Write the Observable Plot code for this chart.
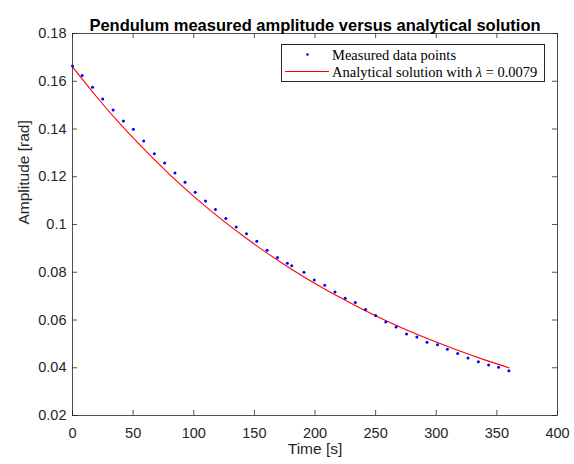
<!DOCTYPE html>
<html>
<head>
<meta charset="utf-8">
<script src="https://cdn.jsdelivr.net/npm/d3@7"></script>
<script src="https://cdn.jsdelivr.net/npm/@observablehq/plot@0.6"></script>
<style>
  html, body { margin: 0; padding: 0; background: #fff; }
  #wrap { position: relative; width: 574px; height: 464px; overflow: hidden; }
  #legend {
    position: absolute; left: 281px; top: 44px; width: 262px; height: 36px;
    border: 1px solid #262626; background: #fff; box-sizing: content-box;
    font-family: "Liberation Serif", "Times New Roman", serif; font-size: 14.5px; color: #000;
  }
  #legend .row { position: absolute; left: 50px; white-space: nowrap; line-height: 16px; }
  #legend svg { position: absolute; left: 0; top: 0; }
</style>
</head>
<body>
<div id="wrap"></div>
<script>
const timeMeasured = [0, 8.0, 16.5, 24.9, 33.5, 42.0, 50.2, 58.7, 67.5, 76.0, 84.5, 92.8, 101.2,
  109.7, 117.9, 126.5, 135.0, 143.5, 152.0, 160.5, 169.0, 177.2, 180.8, 190.9, 199.4, 208.0,
  216.5, 224.9, 233.2, 241.7, 250.0, 258.4, 266.9, 275.5, 284.0, 292.4, 301.0, 309.2, 317.7,
  326.2, 334.7, 343.2, 351.4, 359.9];
const ampMeasured = [0.1664, 0.1624, 0.1575, 0.1526, 0.1480, 0.1434, 0.1399, 0.1350, 0.1296,
  0.1258, 0.1216, 0.1177, 0.1135, 0.1098, 0.1063, 0.1025, 0.0990, 0.0961, 0.0930, 0.0892,
  0.0862, 0.0838, 0.0827, 0.0800, 0.0768, 0.0746, 0.0717, 0.0691, 0.0673, 0.0644, 0.0619,
  0.0592, 0.0571, 0.0541, 0.0529, 0.0507, 0.0496, 0.0478, 0.0460, 0.0441, 0.0425, 0.0411,
  0.0402, 0.0387];

// Analytical solution curve
const timeCurve = [0, 20, 40, 60, 80, 100, 120, 140, 160, 180, 200, 220, 240, 260, 280, 300, 320, 340, 360];
const ampCurve = [0.1660, 0.1534, 0.1417, 0.1310, 0.1210, 0.1118, 0.1033, 0.0955, 0.0882, 0.0815,
  0.0753, 0.0696, 0.0643, 0.0594, 0.0549, 0.0508, 0.0469, 0.0433, 0.0400];

// Ticks and labels
const xTicks = [0, 50, 100, 150, 200, 250, 300, 350, 400];
const yTicks = [0.02, 0.04, 0.06, 0.08, 0.1, 0.12, 0.14, 0.16, 0.18];
const yTickLabels = ["0.02", "0.04", "0.06", "0.08", "0.1", "0.12", "0.14", "0.16", "0.18"];
const titleText = "Pendulum measured amplitude versus analytical solution";
const xLabel = "Time [s]";
const yLabel = "Amplitude [rad]";
const legendLabels = ["Measured data points", "Analytical solution with"];
const lambdaValue = "0.0079";

const measured = timeMeasured.map((t, i) => ({t, a: ampMeasured[i]}));
const curve = timeCurve.map((t, i) => ({t, a: ampCurve[i]}));

const W = 574, H = 464;
const mL = 72, mR = 17, mT = 33, mB = 49;
const innerW = W - mL - mR, innerH = H - mT - mB;
const ink = "#262626";

const chart = Plot.plot({
  width: W, height: H,
  marginLeft: mL, marginRight: mR, marginTop: mT, marginBottom: mB,
  x: {domain: [0, 400]},
  y: {domain: [0.02, 0.18]},
  style: {fontFamily: "'Liberation Sans', Arial, Helvetica, sans-serif", fontSize: "14.5px", color: ink, background: "#fff", overflow: "visible"},
  marks: [
    Plot.line(curve, {x: "t", y: "a", stroke: "#ff0000", strokeWidth: 1.1, curve: "natural"}),
    Plot.dot(measured, {x: "t", y: "a", r: 1.5, fill: "#0000ff", stroke: "none"}),
    // inward tick marks on all four sides
    Plot.tickX(xTicks, {x: d => d, insetTop: innerH - 5, stroke: ink, strokeWidth: 0.8}),
    Plot.tickX(xTicks, {x: d => d, insetBottom: innerH - 5, stroke: ink, strokeWidth: 0.8}),
    Plot.tickY(yTicks, {y: d => d, insetRight: innerW - 5, stroke: ink, strokeWidth: 0.8}),
    Plot.tickY(yTicks, {y: d => d, insetLeft: innerW - 5, stroke: ink, strokeWidth: 0.8}),
    Plot.frame({stroke: ink, strokeWidth: 0.8}),
    Plot.axisX({ticks: xTicks, tickSize: 0, tickPadding: 12, tickFormat: d => String(d), label: null, fill: ink}),
    Plot.axisY({ticks: yTicks, tickSize: 0, tickPadding: 6, tickFormat: d => yTickLabels[yTicks.indexOf(d)], label: null, fill: ink}),
    Plot.text([xLabel], {frameAnchor: "bottom", dy: 38, fontSize: 15.5, fill: ink}),
    Plot.text([yLabel], {frameAnchor: "left", dx: -48, rotate: -90, fontSize: 15.5, fill: ink}),
    Plot.text([titleText], {frameAnchor: "top", dy: -14, fontSize: 16.5, fontWeight: "bold", fill: "#000"})
  ]
});

const wrap = document.getElementById("wrap");
wrap.appendChild(chart);

// Legend
const legend = document.createElement("div");
legend.id = "legend";
legend.innerHTML = `
  <svg width="262" height="36">
    <circle cx="25.5" cy="9.5" r="1.3" fill="#0000ff"></circle>
    <line x1="3" x2="47" y1="26.5" y2="26.5" stroke="#ff0000" stroke-width="1.2"></line>
  </svg>
  <div class="row" style="top:1.5px">${legendLabels[0]}</div>
  <div class="row" style="top:18.5px">${legendLabels[1]} <i>λ</i> = ${lambdaValue}</div>`;
wrap.appendChild(legend);
</script>
</body>
</html>
